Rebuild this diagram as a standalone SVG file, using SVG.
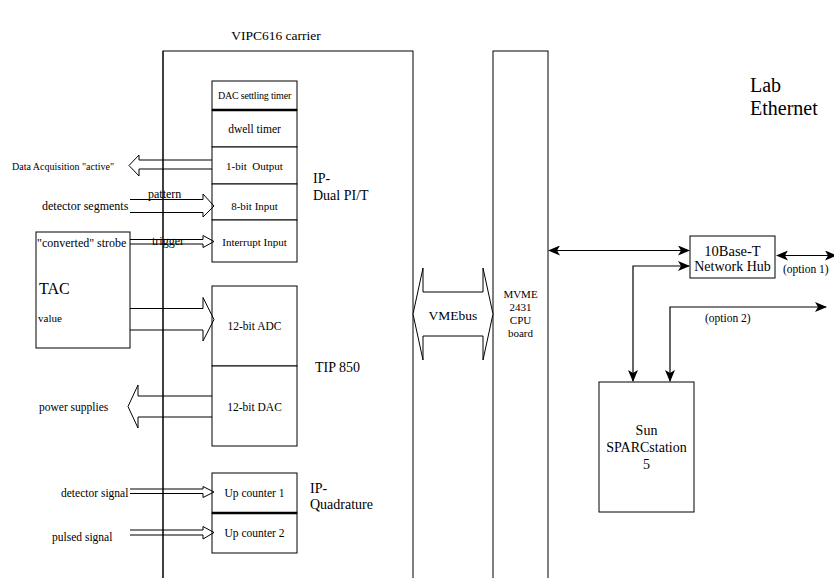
<svg xmlns="http://www.w3.org/2000/svg" width="834" height="578" viewBox="0 0 834 578">
<defs>
<style>
text{font-family:"Liberation Serif","Times New Roman",serif;fill:#000}
.box{fill:#fff;stroke:#000;stroke-width:1}
.thick{stroke:#000;stroke-width:2.5;fill:none}
.hollow{fill:none;stroke:#000;stroke-width:1}
.wire{fill:none;stroke:#000;stroke-width:1.2}
.c{text-anchor:middle}
</style>
<marker id="ah" viewBox="0 0 12 10" refX="11" refY="5" markerWidth="12" markerHeight="10" markerUnits="userSpaceOnUse" orient="auto-start-reverse">
<path d="M0,0 L12,5 L0,10 L3,5 Z" fill="#000"/>
</marker>
</defs>
<rect width="834" height="578" fill="#fff"/>

<g id="carrier">
<rect class="box" x="163" y="51" width="250" height="560"/>
<text class="c" x="276" y="40" font-size="13.5">VIPC616 carrier</text>
</g>

<g id="mvme">
<rect class="box" x="493" y="51" width="55" height="560"/>
<text class="c" x="520.5" y="298" font-size="11">MVME</text>
<text class="c" x="520.5" y="311" font-size="11">2431</text>
<text class="c" x="520.5" y="324" font-size="11">CPU</text>
<text class="c" x="520.5" y="337" font-size="11">board</text>
</g>

<g id="ip-dual">
<rect class="box" x="212" y="81" width="85" height="29"/>
<text class="c" x="254.5" y="99" font-size="10" letter-spacing="-0.2">DAC settling timer</text>
<rect class="box" x="212" y="110" width="85" height="37"/>
<text class="c" x="254.5" y="132.5" font-size="11.5">dwell timer</text>
<rect class="box" x="212" y="147" width="85" height="37"/>
<text class="c" x="254.5" y="169.5" font-size="11" xml:space="preserve">1-bit  Output</text>
<rect class="box" x="212" y="184" width="85" height="36"/>
<text class="c" x="254.5" y="210" font-size="11">8-bit Input</text>
<rect class="box" x="212" y="220" width="85" height="42"/>
<text class="c" x="254.5" y="246" font-size="11">Interrupt Input</text>
<line class="thick" x1="212" y1="110" x2="297" y2="110"/>
<text x="313" y="183" font-size="14">IP-</text>
<text x="313" y="200" font-size="14">Dual PI/T</text>
</g>

<g id="tip850">
<rect class="box" x="212" y="286" width="85" height="80"/>
<text class="c" x="254.5" y="330" font-size="11.5">12-bit ADC</text>
<rect class="box" x="212" y="366" width="85" height="80"/>
<text class="c" x="254.5" y="411" font-size="11.5">12-bit DAC</text>
<text x="315" y="372" font-size="14">TIP 850</text>
</g>

<g id="ip-quad">
<rect class="box" x="212" y="473" width="85" height="40"/>
<text class="c" x="254.5" y="497" font-size="11.5">Up counter 1</text>
<rect class="box" x="212" y="513" width="85" height="40"/>
<text class="c" x="254.5" y="537" font-size="11.5">Up counter 2</text>
<line class="thick" x1="212" y1="513" x2="297" y2="513"/>
<text x="310" y="493" font-size="14">IP-</text>
<text x="310" y="509" font-size="14">Quadrature</text>
</g>

<g id="tac">
<rect class="box" x="36" y="232" width="94" height="116"/>
<text x="37" y="247" font-size="12">"converted" strobe</text>
<text x="39" y="294" font-size="16">TAC</text>
<text x="38" y="322" font-size="11">value</text>
</g>

<g id="hub">
<rect class="box" x="690" y="236" width="85" height="42"/>
<text class="c" x="732.5" y="256" font-size="14.5">10Base-T</text>
<text class="c" x="732.5" y="271" font-size="14">Network Hub</text>
</g>

<g id="sun">
<rect class="box" x="599" y="382" width="95" height="130"/>
<text class="c" x="646.5" y="435" font-size="14">Sun</text>
<text class="c" x="646.5" y="452" font-size="14">SPARCstation</text>
<text class="c" x="646.5" y="469" font-size="14">5</text>
</g>

<g id="lab-ethernet">
<text x="750" y="92" font-size="20">Lab</text>
<text x="750" y="115" font-size="20">Ethernet</text>
</g>

<g id="connectors">
<!-- VMEbus double block arrow -->
<polygon points="413,314 423,268 423,292 483,292 483,268 493,314 483,360 483,336 423,336 423,360" fill="#fff" stroke="#000" stroke-width="1"/>
<text class="c" x="453" y="320" font-size="13.5">VMEbus</text>

<!-- hollow arrows -->
<polyline class="hollow" points="212,160 139,160 139,155 129,165.5 139,176 139,169 212,169"/>
<text x="12" y="170" font-size="10">Data Acquisition "active"</text>

<polyline class="hollow" points="130,199.5 203,199.5 203,194 214,206 203,217 203,212.5 130,212.5"/>
<text x="42" y="210" font-size="12">detector segments</text>
<text x="148" y="198" font-size="12">pattern</text>

<polyline class="hollow" points="130,239.5 203,239.5 203,235.5 214,241.5 203,247.5 203,244 130,244"/>
<text x="152" y="245" font-size="12">trigger</text>

<polyline class="hollow" points="130,308.5 203,308.5 203,297.5 214,319.5 203,341 203,330 130,330"/>

<polyline class="hollow" points="212,396 138,396 138,385 128,406.5 138,428 138,417 212,417"/>
<text x="39" y="411" font-size="11.5">power supplies</text>

<polyline class="hollow" points="130,489 203,489 203,486.5 214,492 203,497.5 203,493.5 130,493.5"/>
<text x="61" y="497" font-size="11.5">detector signal</text>

<polyline class="hollow" points="130,530 203,530 203,526.5 214,532.5 203,539 203,535 130,535"/>
<text x="52" y="541" font-size="11.5">pulsed signal</text>

<!-- carrier left edge visible over arrows -->
<line x1="163" y1="51" x2="163" y2="578" stroke="#000" stroke-width="1"/>

<!-- network wires -->
<line class="wire" x1="549" y1="250.5" x2="689" y2="250.5" marker-start="url(#ah)" marker-end="url(#ah)"/>
<polyline class="wire" points="633,381 633,266 689,266" marker-start="url(#ah)" marker-end="url(#ah)"/>
<line class="wire" x1="777" y1="255.5" x2="836" y2="255.5" marker-start="url(#ah)" marker-end="url(#ah)"/>
<text x="783" y="273" font-size="11.5">(option 1)</text>
<polyline class="wire" points="670,381 670,307 826,307" marker-start="url(#ah)" marker-end="url(#ah)"/>
<text x="705" y="322" font-size="11.5">(option 2)</text>
</g>
</svg>
